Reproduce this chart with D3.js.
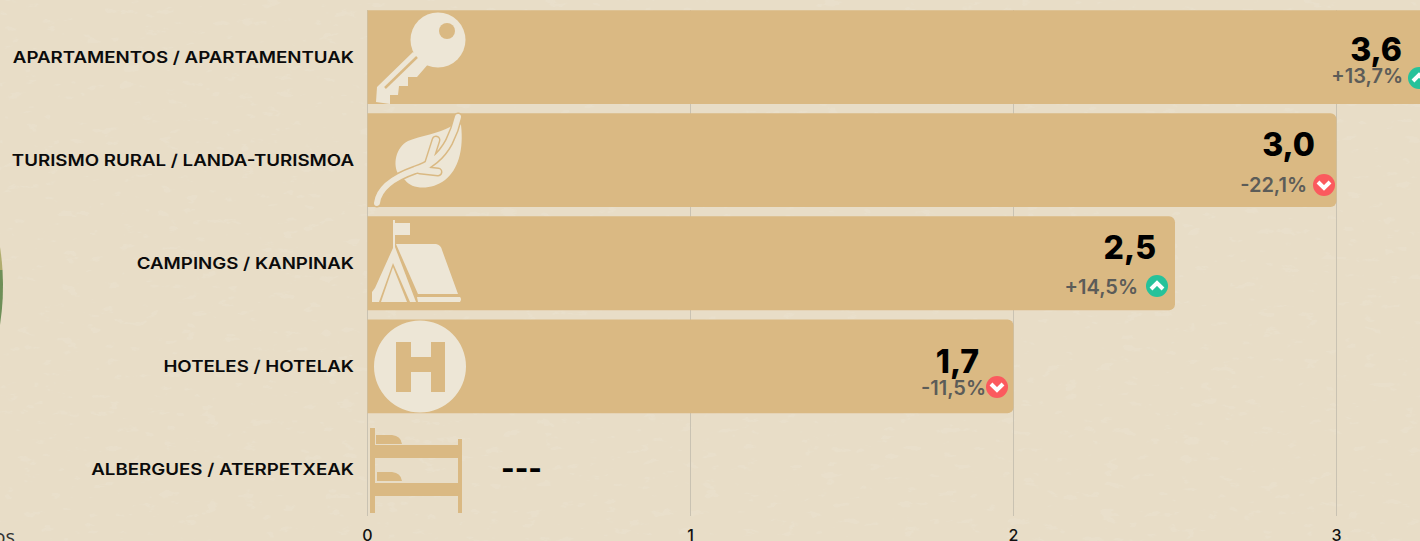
<!DOCTYPE html>
<html>
<head>
<meta charset="utf-8">
<script src="https://cdn.jsdelivr.net/npm/d3@7"></script>
<style>
html, body { margin: 0; padding: 0; background: #e8ddc7; overflow: hidden; }
svg { display: block; font-family: "Inter", "Open Sans", sans-serif; }
</style>
</head>
<body>
<script>
const categories = [
    "APARTAMENTOS / APARTAMENTUAK",
    "TURISMO RURAL / LANDA-TURISMOA",
    "CAMPINGS / KANPINAK",
    "HOTELES / HOTELAK",
    "ALBERGUES / ATERPETXEAK"
];
// bar lengths as drawn (the hotel bar is longer than its printed label)
const barValues = [3.6, 3.0, 2.5, 2.0, 0];
const valueLabels = ["3,6", "3,0", "2,5", "1,7", "---"];
const changeLabels = ["+13,7%", "-22,1%", "+14,5%", "-11,5%", ""];
const changeUp = [true, false, true, false, null];
const xTicks = [0, 1, 2, 3];

const width = 1420;
const height = 541;
const barColor = "#dab983";
const iconColor = "#ede6d6";

const svg = d3.select("body").append("svg")
    .attr("width", width)
    .attr("height", height);

// paper texture
const defs = svg.append("defs");
const paper = defs.append("filter").attr("id", "paper")
    .attr("x", 0).attr("y", 0).attr("width", "100%").attr("height", "100%");
paper.append("feTurbulence")
    .attr("type", "fractalNoise")
    .attr("baseFrequency", "0.05 0.11")
    .attr("numOctaves", 4)
    .attr("seed", 7);
paper.append("feColorMatrix")
    .attr("values", "0 0 0 0 0.83  0 0 0 0 0.77  0 0 0 0 0.64  0 0 0 12 -8");

svg.append("rect").attr("width", width).attr("height", height).attr("fill", "#e8ddc7");
svg.append("rect").attr("width", width).attr("height", height)
    .attr("filter", "url(#paper)").attr("opacity", 0.45);

const x = d3.scaleLinear().domain([0, 3]).range([367.5, 1336.5]);
const y = d3.scaleBand().domain(categories).range([5.5, 521]).paddingInner(0.09).paddingOuter(0.045);

// the doughnut cut off by the left edge
svg.append("path")
    .attr("d", "M0,247 A255,255 0 0 1 2.5,270 L0,270 Z")
    .attr("fill", "#b0ad6f");
svg.append("path")
    .attr("d", "M0,270 L2.5,270 A255,255 0 0 1 0,325 Z")
    .attr("fill", "#6e8f58");

// grid
svg.append("g").selectAll("line").data(xTicks).join("line")
    .attr("x1", d => x(d)).attr("x2", d => x(d))
    .attr("y1", 10).attr("y2", 516)
    .attr("stroke", "#c9c2b2").attr("stroke-width", 1);

// bars, square on the left and rounded on the right
const barPath = d => {
    const x0 = x(0), x1 = x(d), y0 = y.bandwidth(), r = 6;
    return `M${x0},0 H${x1 - r} A${r},${r} 0 0 1 ${x1},${r} V${y0 - r} A${r},${r} 0 0 1 ${x1 - r},${y0} H${x0} Z`;
};
const rows = svg.append("g").selectAll("g").data(categories).join("g")
    .attr("transform", d => `translate(0,${y(d)})`);

rows.filter((d, i) => barValues[i] > 0).append("path")
    .attr("d", (d, i) => barPath(barValues[i]))
    .attr("fill", barColor);

// category labels, stretched because the original face is wider than Inter
rows.append("text")
    .attr("transform", `translate(354,${y.bandwidth() / 2}) scale(1.133,1)`)
    .attr("dy", "0.35em")
    .attr("text-anchor", "end")
    .attr("font-size", 16.5)
    .attr("font-weight", 600)
    .attr("fill", "#0b0b0b")
    .text(d => d);

// value and change labels: right edges measured per row
const valueRight = [1402, 1315, 1156, 979, 542];
const valueBase = [61, 156, 259, 373, 479];
const changeRight = [1403, 1307, 1138, 986];
const changeBase = [83, 192, 294, 395];
const badgeX = [1419, 1324, 1157, 997];
const badgeY = [78, 185, 286, 387];

svg.append("g").selectAll("text").data(valueLabels).join("text")
    .attr("x", (d, i) => valueRight[i])
    .attr("y", (d, i) => valueBase[i])
    .attr("text-anchor", "end")
    .attr("font-size", d => d === "---" ? 29 : 32)
    .attr("font-weight", 800)
    .attr("fill", "#000")
    .text(d => d);

svg.append("g").selectAll("text").data(changeLabels.slice(0, 4)).join("text")
    .attr("x", (d, i) => changeRight[i])
    .attr("y", (d, i) => changeBase[i])
    .attr("text-anchor", "end")
    .attr("font-size", 20)
    .attr("font-weight", 600)
    .attr("fill", "#5c5c58")
    .text(d => d);

const badges = svg.append("g").selectAll("g").data(changeUp.slice(0, 4)).join("g")
    .attr("transform", (d, i) => `translate(${badgeX[i]},${badgeY[i]})`);
badges.append("circle").attr("r", 11).attr("fill", d => d ? "#26c29a" : "#fb5a5e");
badges.append("path")
    .attr("d", d => d ? "M-6,3 L0,-3 L6,3" : "M-6,-3 L0,3 L6,-3")
    .attr("fill", "none").attr("stroke", "#fff").attr("stroke-width", 4)
    .attr("stroke-linejoin", "miter");

// icons
const icons = svg.append("g");
// key
icons.append("circle").attr("cx", 438).attr("cy", 40).attr("r", 27.5).attr("fill", iconColor);
icons.append("path").attr("fill", iconColor)
    .attr("d", "M413,52 L377,87 L376,102 L390,104 L390,95 L398,95 L399,86 L408,86 L408,77 L417,77 L430,62 Z");
icons.append("circle").attr("cx", 447).attr("cy", 31).attr("r", 8).attr("fill", barColor);
icons.append("line").attr("x1", 417).attr("y1", 57).attr("x2", 385).attr("y2", 88)
    .attr("stroke", barColor).attr("stroke-width", 2.5);
// leaf: full shape, then veins with a bar coloured outline
const stem = "M377,203 C379,186 398,176 415,170 C432,165 442,155 449,142 C453,134 456,126 458,117";
const branches = "M428,165 L436,140 M420,170 L438,172";
icons.append("path").attr("fill", iconColor)
    .attr("d", "M450,127 C440,133 420,136 408,141 C396,147 392,165 399,175 L405,180 C412,190 432,190 445,180 C458,170 464,150 461,125 L456,120 C454,123 453,125 450,127 Z");
icons.append("path").attr("fill", "none").attr("stroke", barColor).attr("stroke-width", 9).attr("stroke-linecap", "round")
    .attr("d", stem + " " + branches);
icons.append("path").attr("fill", "none").attr("stroke", iconColor).attr("stroke-width", 6).attr("stroke-linecap", "round")
    .attr("d", stem + " " + branches);
// tent
icons.append("path").attr("fill", iconColor)
    .attr("d", "M393,220 L395,220 L395,223 L410,223 L410,235 L395,235 L395,247 L416,302 L410,302 L393,263 L379,302 L372,302 L372,292 L375,288 L393,248 Z");
icons.append("path").attr("fill", iconColor)
    .attr("d", "M393,267 L381,302 L407,302 Z");
icons.append("path").attr("fill", iconColor)
    .attr("d", "M396,244 L436,244 Q441,245 442,250 L458,294 L418,294 Z");
icons.append("path").attr("fill", iconColor)
    .attr("d", "M417,297 L460,297 Q462,299 460,302 L418,302 Z");
// hotel
icons.append("path").attr("fill", iconColor).attr("fill-rule", "evenodd")
    .attr("d", "M374,366.5 a46,46 0 1 0 92,0 a46,46 0 1 0 -92,0 Z M396,342 L396,392 L411,392 L411,372 L431,372 L431,392 L445,392 L445,342 L431,342 L431,357 L411,357 L411,342 Z");
// bunk bed
icons.append("path").attr("fill", barColor)
    .attr("d", "M370,428 L375,428 L375,445 L458,445 L458,439 L462,439 L462,513 L458,513 L458,496 L375,496 L375,513 L370,513 Z M375,458 L375,483 L458,483 L458,458 Z");
icons.append("path").attr("fill", barColor)
    .attr("d", "M376,435 L392,435 Q401,436 402,444 L376,444 Z M377,472 L392,472 Q401,473 402,481 L377,481 Z");

// x axis tick labels, cut by the window as in the picture
svg.append("g").selectAll("text").data(xTicks).join("text")
    .attr("x", d => x(d))
    .attr("y", 541)
    .attr("text-anchor", "middle")
    .attr("font-size", 16)
    .attr("font-weight", 500)
    .attr("fill", "#111")
    .text(d => d);

// tail of a label belonging to the chart on the left
svg.append("text")
    .attr("x", 15).attr("y", 544)
    .attr("text-anchor", "end")
    .attr("font-family", "Open Sans")
    .attr("font-size", 20)
    .attr("fill", "#333")
    .text("os");
</script>
</body>
</html>
